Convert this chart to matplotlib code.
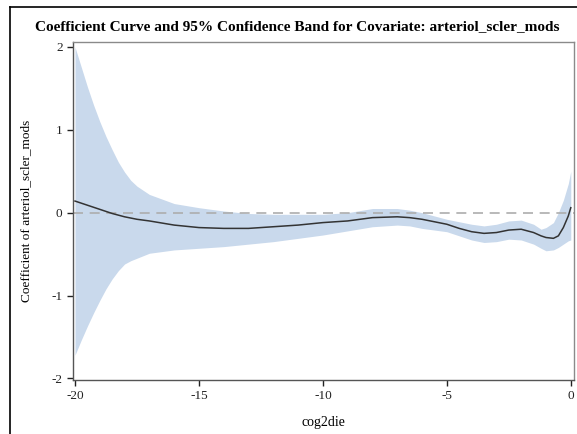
import matplotlib
matplotlib.use("Agg")
import matplotlib.pyplot as plt
from matplotlib.lines import Line2D

x_pts = [-20, -19.75, -19.5, -19.25, -19, -18.75, -18.5, -18.25, -18, -17.75, -17.5, -17,
         -16, -15, -14, -13, -12, -11, -10, -9, -8, -7, -6.5, -6, -5.5, -5, -4.5, -4,
         -3.5, -3, -2.5, -2, -1.5, -1.2, -1, -0.7, -0.5, -0.3, -0.1, 0]
coef = [0.14, 0.115, 0.09, 0.065, 0.04, 0.015, -0.01, -0.03, -0.05, -0.065, -0.08, -0.10,
        -0.15, -0.18, -0.19, -0.19, -0.17, -0.15, -0.12, -0.10, -0.06, -0.05, -0.06,
        -0.08, -0.11, -0.14, -0.19, -0.23, -0.25, -0.24, -0.21, -0.20, -0.24, -0.28,
        -0.30, -0.31, -0.28, -0.18, -0.04, 0.06]
upper = [2.0, 1.76, 1.52, 1.30, 1.10, 0.92, 0.76, 0.61, 0.49, 0.39, 0.32, 0.22,
         0.11, 0.06, 0.02, -0.01, -0.02, -0.02, -0.02, 0.0, 0.05, 0.05, 0.03, 0.0,
         -0.04, -0.08, -0.11, -0.14, -0.16, -0.14, -0.10, -0.09, -0.14, -0.20, -0.18,
         -0.12, 0.0, 0.15, 0.35, 0.50]
lower = [-1.72, -1.54, -1.37, -1.21, -1.06, -0.92, -0.80, -0.70, -0.62, -0.58, -0.55,
         -0.49, -0.45, -0.43, -0.41, -0.38, -0.35, -0.31, -0.27, -0.22, -0.17, -0.15,
         -0.16, -0.19, -0.21, -0.23, -0.28, -0.33, -0.36, -0.35, -0.32, -0.33, -0.38,
         -0.43, -0.46, -0.45, -0.42, -0.38, -0.34, -0.33]

x_ticks = [-20, -15, -10, -5, 0]
y_ticks = [-2, -1, 0, 1, 2]

plt.rcParams["font.family"] = ["Liberation Serif", "DejaVu Serif"]

fig = plt.figure(figsize=(5.77, 4.34), dpi=100)
ax = fig.add_axes([73/577, 1-380/434, (574-73)/577, (380-42)/434])

ax.fill_between(x_pts, lower, upper, color="#c9d9ec", linewidth=0)
ax.axhline(0, color="#adadad", linewidth=1.2, dashes=(6, 4))
ax.plot(x_pts, coef, color="#333333", linewidth=1.1)

ax.set_xlim(-20.08, 0.13)
ax.set_ylim(-2.02, 2.06)
ax.set_xticks(x_ticks)
ax.set_xticklabels([str(t) for t in x_ticks])
ax.set_yticks(y_ticks)
ax.set_yticklabels([str(t) for t in y_ticks])
ax.tick_params(direction="out", length=4.5, width=1, colors="#222222", labelsize=9.5, pad=3)
for s in ax.spines.values():
    s.set_color("#8a8a8a")
    s.set_linewidth(1)
ax.spines["left"].set_color("#555555")
ax.spines["bottom"].set_color("#555555")

ax.set_xlabel("cog2die", fontsize=10, labelpad=10)
ax.set_ylabel("Coefficient of arteriol_scler_mods", fontsize=9.5, labelpad=14)

fig.text(0.515, 1-27/434, "Coefficient Curve and 95% Confidence Band for Covariate: arteriol_scler_mods",
         ha="center", va="center", fontsize=11, fontweight="bold")

# outer frame (cut off at right and bottom)
fig.add_artist(Line2D([10/577, 1], [1-7/434, 1-7/434], color="black", linewidth=1.2))
fig.add_artist(Line2D([10/577, 10/577], [0, 1-7/434], color="black", linewidth=1.2))

fig.savefig("out.png", dpi=100)
